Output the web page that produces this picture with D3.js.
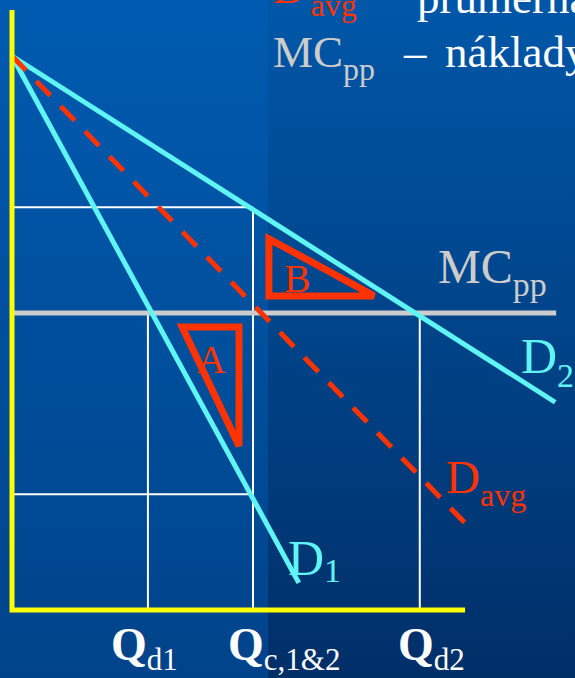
<!DOCTYPE html>
<html>
<head>
<meta charset="utf-8">
<script src="https://cdn.jsdelivr.net/npm/d3@7"></script>
<style>
body { margin: 0; background: #004a90; }
</style>
</head>
<body>
<script>
//demand curves: all start on the price axis, values are (quantity, price)
var curveNames = ["D1", "D2", "Davg"];
var curveStartP = [10, 10, 10];
var curveEndQ = [5.95, 11.27, 9.42];
var curveEndP = [0.49, 3.75, 1.55];

//marginal cost of the public good
var mcPrice = 5.36;
var mcEndQ = 11.29;

//quantities marked under the axis
var qValues = [2.82, 5.0, 8.46];
var qSubs = ["d1", "c,1&2", "d2"];

var guidePrices = [7.27, 2.09];

//triangles A and B (quantity, price)
var triA = [[3.53, 5.11], [4.71, 5.11], [4.71, 2.96]];
var triB = [[5.33, 6.70], [5.33, 5.67], [7.51, 5.67]];

//extent of the axes
var axisMaxQ = 9.4,
    axisMaxP = 10.83;

(function(){

    var width = 575,
        height = 678,
        serif = "'Liberation Serif', 'Times New Roman', 'DejaVu Serif', serif";

    var svg = d3.select("body")
        .append("svg")
        .attr("width", width)
        .attr("height", height)
        .attr("font-family", serif);

    //background gradients, left and right panel
    var defs = svg.append("defs");
    var gradLeft = defs.append("linearGradient")
        .attr("id", "gradLeft")
        .attr("x1", 0).attr("y1", 0).attr("x2", 0).attr("y2", 1);
    gradLeft.append("stop").attr("offset", "0%").attr("stop-color", "#005bb0");
    gradLeft.append("stop").attr("offset", "100%").attr("stop-color", "#00438a");
    var gradRight = defs.append("linearGradient")
        .attr("id", "gradRight")
        .attr("x1", 0).attr("y1", 0).attr("x2", 0).attr("y2", 1);
    gradRight.append("stop").attr("offset", "0%").attr("stop-color", "#0057a8");
    gradRight.append("stop").attr("offset", "100%").attr("stop-color", "#002f68");

    svg.append("rect")
        .attr("x", 0).attr("y", 0)
        .attr("width", 268).attr("height", height)
        .style("fill", "url(#gradLeft)");
    svg.append("rect")
        .attr("x", 268).attr("y", 0)
        .attr("width", width - 268).attr("height", height)
        .style("fill", "url(#gradRight)");

    //scales
    var x = d3.scaleLinear()
        .domain([0, 10])
        .range([12, 494]);
    var y = d3.scaleLinear()
        .domain([0, 10])
        .range([610, 56]);

    function seg(q1, p1, q2, p2){
        return "M" + x(q1) + "," + y(p1) + "L" + x(q2) + "," + y(p2);
    }

    //white guide lines
    var guides = [
        seg(0, guidePrices[0], qValues[1], guidePrices[0]),
        seg(qValues[1], guidePrices[0], qValues[1], 0),
        seg(0, guidePrices[1], qValues[1], guidePrices[1]),
        seg(qValues[0], mcPrice, qValues[0], 0),
        seg(qValues[2], mcPrice, qValues[2], 0)
    ];
    svg.selectAll(".guide")
        .data(guides)
        .enter()
        .append("path")
        .attr("class", "guide")
        .attr("d", function(d){ return d; })
        .style("stroke", "#ffffff")
        .style("stroke-width", 2)
        .style("fill", "none");

    //MC line
    svg.append("path")
        .attr("d", seg(0, mcPrice, mcEndQ, mcPrice))
        .style("stroke", "#cccccc")
        .style("stroke-width", 5);

    //demand curves
    svg.selectAll(".curve")
        .data(curveNames)
        .enter()
        .append("path")
        .attr("class", "curve")
        .attr("d", function(d, i){
            return seg(0, curveStartP[i], curveEndQ[i], curveEndP[i]);
        })
        .style("stroke", function(d){
            return d == "Davg" ? "#ff3300" : "#5ff5f5";
        })
        .style("stroke-width", 5)
        .style("stroke-dasharray", function(d){
            return d == "Davg" ? "20,15" : null;
        });

    //triangles A and B
    var line = d3.line()
        .x(function(d){ return x(d[0]); })
        .y(function(d){ return y(d[1]); })
        .curve(d3.curveLinearClosed);
    svg.selectAll(".tri")
        .data([triA, triB])
        .enter()
        .append("path")
        .attr("class", "tri")
        .attr("d", line)
        .style("fill", "none")
        .style("stroke", "#ff3300")
        .style("stroke-width", 7)
        .style("stroke-linejoin", "miter");

    svg.append("text")
        .attr("x", 197).attr("y", 373)
        .style("font-size", "40px")
        .style("fill", "#ff3300")
        .text("A");
    svg.append("text")
        .attr("x", 284).attr("y", 292)
        .style("font-size", "40px")
        .style("fill", "#ff3300")
        .text("B");

    //yellow axes
    svg.append("path")
        .attr("d", seg(0, axisMaxP, 0, 0) + "M" + (x(0) - 2.5) + "," + y(0) + "L" + x(axisMaxQ) + "," + y(0))
        .style("stroke", "#ffff00")
        .style("stroke-width", 5)
        .style("fill", "none");

    //label with subscript
    function label(px, py, main, sub, color, size, subSize, subDy, bold, subDx){
        var t = svg.append("text")
            .attr("x", px)
            .attr("y", py)
            .style("fill", color);
        t.append("tspan")
            .style("font-size", size + "px")
            .style("font-weight", bold ? "bold" : "normal")
            .text(main);
        t.append("tspan")
            .attr("dy", subDy)
            .attr("dx", subDx || 0)
            .style("font-size", subSize + "px")
            .text(sub);
        return t;
    }

    label(438, 283, "MC", "pp", "#cccccc", 48, 34, 13);
    label(521, 373, "D", "2", "#5ff5f5", 50, 34, 14);
    label(446, 493, "D", "avg", "#ff3300", 47, 32, 13);
    label(288, 575, "D", "1", "#5ff5f5", 50, 34, 7);

    //quantity labels under the axis
    var qLabelX = [111, 228, 398];
    qSubs.forEach(function(s, i){
        label(qLabelX[i], 660, "Q", s, "#ffffff", 46, 31, 10, true);
    });

    //heading text, cut off by the frame
    label(273, 3, "D", "avg", "#ff3300", 45, 32, 13, false, 5);
    svg.append("text")
        .attr("x", 417).attr("y", 13)
        .style("font-size", "45px")
        .style("fill", "#ffffff")
        .text("průměrná poptávka");

    label(273, 67, "MC", "pp", "#cccccc", 45, 32, 13);
    svg.append("text")
        .attr("x", 404).attr("y", 67)
        .style("font-size", "45px")
        .style("fill", "#ffffff")
        .text("–");
    svg.append("text")
        .attr("x", 445).attr("y", 67)
        .style("font-size", "45px")
        .style("fill", "#ffffff")
        .text("náklady");

})();
</script>
</body>
</html>
